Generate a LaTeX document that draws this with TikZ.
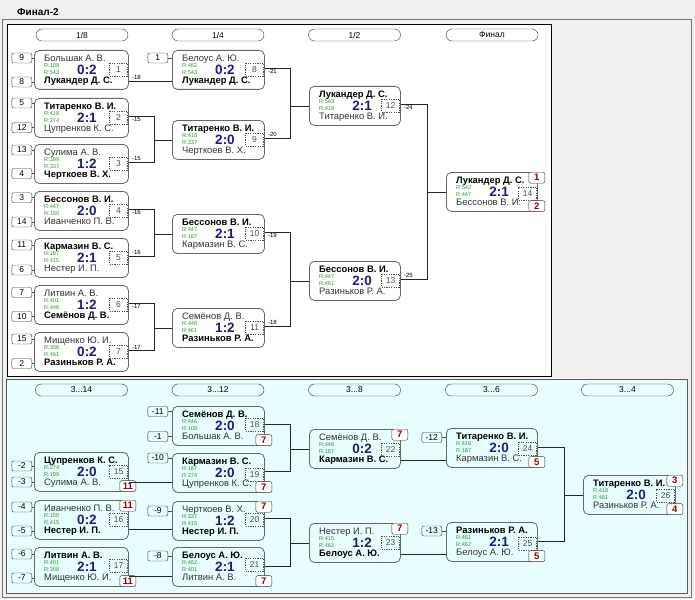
\documentclass[tikz,border=0pt]{standalone}
\usepackage{fontspec}
\setmainfont{Liberation Sans}
\usetikzlibrary{calc}
\definecolor{scnavy}{RGB}{28,28,128}
\definecolor{plred}{RGB}{140,0,0}
\definecolor{rgreen}{RGB}{45,150,45}
\definecolor{panelcyan}{RGB}{232,253,253}
\definecolor{bggray}{RGB}{240,240,240}
\newcommand\win[1]{{\bfseries\color{black}#1}}
\newcommand\mmatch[6]{%
  \node[mbox, minimum width=#4pt, anchor=north west] (#1) at (#2,#3) {};
  \node[nm, anchor=west] (#1a) at ($(#1.north west)+(10,9)$) {#5};
  \node[nm, anchor=west] (#1b) at ($(#1.north west)+(10,31.5)$) {#6};
}
\newcommand\mscore[6]{%
  \node[rt, anchor=west] (#1r) at ($(#1.north west)+(10,15.3)$) {R:#2};
  \node[rt, anchor=west] (#1q) at ($(#1.north west)+(10,23)$) {R:#3};
  \node[sc] (#1s) at ($(#1.north west)+(53,19.5)$) {#4};
  \node[numbox, anchor=north east] (#1n) at ($(#1.north east)+(-1,#6)$) {#5};
}
\newcommand\mseed[5]{%
  \node[seedbox, anchor=east] (#1) at (#3,#4) {#5};
  \draw[sline] (#1.east) -- (#1.east -| #2.west);
}
\newcommand\mplt[2]{\node[plbox, anchor=north] (#1pt) at ($(#1.north east)+(-1,0)$) {#2};}
\newcommand\mplb[2]{\node[plbox, anchor=south] (#1pb) at ($(#1.south east)+(-1,0)$) {#2};}
\newcommand\mpair[6]{%
  \coordinate (#1x) at ($(#1.north east)+(0,#3)$);
  \coordinate (#2x) at ($(#2.north east)+(0,#4)$);
  \coordinate (#5v) at (#6,0);
  \draw[conn] (#1x) -- (#1x -| #5v) -- (#2x -| #5v) -- (#2x);
  \draw[conn] (#5v |- #5.west) -- (#5.west);
}
\newcommand\mstraight[3]{%
  \coordinate (#1x) at ($(#1.north east)+(0,#3)$);
  \draw[conn] (#1x) -- (#1x -| #2.west);
}
\begin{document}
\begin{tikzpicture}[x=1pt,y=-1pt,
  mbox/.style={draw=black!60, rounded corners=5pt, minimum height=39pt, inner sep=0pt, line width=0.8pt},
  nm/.style={font=\fontsize{9.4}{10}\selectfont, inner sep=0pt, text=black!80, text height=6.7pt, text depth=1.9pt},
  rt/.style={font=\fontsize{5.6}{6}\selectfont, inner sep=0pt, text=rgreen},
  sc/.style={font=\fontsize{13.5}{14}\selectfont\bfseries, inner sep=0pt, text=scnavy},
  numbox/.style={draw=black!70, dash pattern=on 1.2pt off 1.2pt, minimum width=18pt, minimum height=13pt, inner sep=0pt, font=\fontsize{8.5}{9}\selectfont, text=black!70},
  seedbox/.style={draw=black!80, rounded corners=2pt, minimum width=20pt, minimum height=10pt, inner sep=0pt, font=\fontsize{8.5}{9}\selectfont},
  plbox/.style={draw=black!80, fill=white, rounded corners=2pt, minimum width=16pt, minimum height=11pt, inner sep=0pt, font=\fontsize{9.5}{10}\selectfont\bfseries, text=plred},
  hdr/.style={draw=black!80, rounded corners=6pt, minimum width=92pt, minimum height=12pt, inner sep=0pt, font=\fontsize{8.5}{9}\selectfont},
  conn/.style={draw=black!85, line width=0.7pt},
  sline/.style={draw=black!70, line width=0.6pt},
  lbl/.style={font=\fontsize{6}{7}\selectfont, inner sep=0pt},
  ttl/.style={font=\fontsize{10}{11}\selectfont\bfseries, inner sep=0pt}
]
\useasboundingbox (0,0) rectangle (695,599);
\fill[bggray] (0,0) rectangle (695,599);
\draw[black!55] (2,19) rectangle (691,597);
\draw[black, fill=white] (7,24) rectangle (551,376);
\draw[black!65, fill=panelcyan] (6,379) rectangle (687,593);
\node[ttl, anchor=west] (title) at (17,12) {Финал-2};

% headers
\node[hdr, fill=white] (h1) at (82,35) {1/8};
\node[hdr, fill=white] (h2) at (218,35) {1/4};
\node[hdr, fill=white] (h3) at (354.5,35) {1/2};
\node[hdr, fill=white] (h4) at (492,35) {Финал};
\node[hdr] (h5) at (81.5,390) {3...14};
\node[hdr] (h6) at (218,390) {3...12};
\node[hdr] (h7) at (354.5,390) {3...8};
\node[hdr] (h8) at (491.5,390) {3...6};
\node[hdr] (h9) at (627.5,390) {3...4};

% ===== top bracket, 1/8 =====
\mmatch{m1}{34}{50}{94}{Большак А. В.}{\win{Лукандер Д. С.}}
\mscore{m1}{108}{543}{0:2}{1}{13}
\mseed{sa9}{m1}{32}{58}{9}
\mseed{sa8}{m1}{32}{82}{8}

\mmatch{m2}{34}{98}{94}{\win{Титаренко В. И.}}{Цупренков К. С.}
\mscore{m2}{418}{274}{2:1}{2}{13}
\mseed{sa5}{m2}{32}{103}{5}
\mseed{sa12}{m2}{32}{127.7}{12}

\mmatch{m3}{34}{144}{94}{Сулима А. В.}{\win{Черткоев В. Х.}}
\mscore{m3}{199}{337}{1:2}{3}{13}
\mseed{sa13}{m3}{32}{150}{13}
\mseed{sa4}{m3}{32}{173.5}{4}

\mmatch{m4}{34}{191}{94}{\win{Бессонов В. И.}}{Иванченко П. В.}
\mscore{m4}{447}{150}{2:0}{4}{13}
\mseed{sa3}{m4}{32}{197.7}{3}
\mseed{sa14}{m4}{32}{222}{14}

\mmatch{m5}{34}{238}{94}{\win{Кармазин В. С.}}{Нестер И. П.}
\mscore{m5}{187}{415}{2:1}{5}{13}
\mseed{sa11}{m5}{32}{245}{11}
\mseed{sa6}{m5}{32}{270}{6}

\mmatch{m6}{34}{285}{94}{Литвин А. В.}{\win{Семёнов Д. В.}}
\mscore{m6}{401}{446}{1:2}{6}{13}
\mseed{sa7}{m6}{32}{292.5}{7}
\mseed{sa10}{m6}{32}{316.5}{10}

\mmatch{m7}{34}{332}{94}{Мищенко Ю. И.}{\win{Разиньков Р. А.}}
\mscore{m7}{308}{461}{0:2}{7}{13}
\mseed{sa15}{m7}{32}{339}{15}
\mseed{sa2}{m7}{32}{363.5}{2}

% ===== 1/4 =====
\mmatch{m8}{172}{50}{92}{Белоус А. Ю.}{\win{Лукандер Д. С.}}
\mscore{m8}{462}{543}{0:2}{8}{13}
\mseed{sa1}{m8}{168}{58}{1}

\mmatch{m9}{172}{120}{92}{\win{Титаренко В. И.}}{Черткоев В. Х.}
\mscore{m9}{418}{337}{2:0}{9}{13}

\mmatch{m10}{172}{214}{92}{\win{Бессонов В. И.}}{Кармазин В. С.}
\mscore{m10}{447}{187}{2:1}{10}{13}

\mmatch{m11}{172}{308}{92}{Семёнов Д. В.}{\win{Разиньков Р. А.}}
\mscore{m11}{446}{461}{1:2}{11}{13}

% ===== 1/2 =====
\mmatch{m12}{309}{86}{91}{\win{Лукандер Д. С.}}{Титаренко В. И.}
\mscore{m12}{543}{418}{2:1}{12}{13}

\mmatch{m13}{309}{261}{91}{\win{Бессонов В. И.}}{Разиньков Р. А.}
\mscore{m13}{447}{461}{2:0}{13}{13}

% ===== final =====
\mmatch{m14}{446}{172}{91}{\win{Лукандер Д. С.}}{Бессонов В. И.}
\mscore{m14}{543}{447}{2:1}{14}{14.5}
\mplt{m14}{1}
\mplb{m14}{2}

% top connectors
\mstraight{m1}{m8}{31}
\node[lbl, anchor=south west] (l1) at ($(m1x)+(3,-0.8)$) {-18};
\mpair{m2}{m3}{18}{18}{m9}{154}
\node[lbl, anchor=north west] (l2) at ($(m2x)+(3,0.8)$) {-15};
\node[lbl, anchor=south west] (l3) at ($(m3x)+(3,-0.8)$) {-15};
\mpair{m4}{m5}{18}{18}{m10}{154}
\node[lbl, anchor=north west] (l4) at ($(m4x)+(3,0.8)$) {-16};
\node[lbl, anchor=south west] (l5) at ($(m5x)+(3,-0.8)$) {-16};
\mpair{m6}{m7}{18}{18}{m11}{154}
\node[lbl, anchor=north west] (l6) at ($(m6x)+(3,0.8)$) {-17};
\node[lbl, anchor=south west] (l7) at ($(m7x)+(3,-0.8)$) {-17};
\mpair{m8}{m9}{18}{18}{m12}{290}
\node[lbl, anchor=north west] (l8) at ($(m8x)+(3,0.8)$) {-21};
\node[lbl, anchor=south west] (l9) at ($(m9x)+(3,-0.8)$) {-20};
\mpair{m10}{m11}{18}{18}{m13}{290}
\node[lbl, anchor=north west] (l10) at ($(m10x)+(3,0.8)$) {-19};
\node[lbl, anchor=south west] (l11) at ($(m11x)+(3,-0.8)$) {-18};
\mpair{m12}{m13}{18}{18}{m14}{427}
\node[lbl, anchor=north west] (l12) at ($(m12x)+(3,0.8)$) {-24};
\node[lbl, anchor=south west] (l13) at ($(m13x)+(3,-0.8)$) {-25};

% ===== bottom bracket 3...14 =====
\mmatch{m15}{34}{452}{94}{\win{Цупренков К. С.}}{Сулима А. В.}
\mscore{m15}{274}{199}{2:0}{15}{12.5}
\mseed{sb2}{m15}{32}{466}{-2}
\mseed{sb3}{m15}{32}{482}{-3}
\mplb{m15}{11}

\mmatch{m16}{34}{500}{94}{Иванченко П. В.}{\win{Нестер И. П.}}
\mscore{m16}{150}{415}{0:2}{16}{13}
\mseed{sb4}{m16}{32}{507}{-4}
\mseed{sb5}{m16}{32}{531}{-5}
\mplt{m16}{11}

\mmatch{m17}{34}{547}{94}{\win{Литвин А. В.}}{Мищенко Ю. И.}
\mscore{m17}{401}{308}{2:1}{17}{12}
\mseed{sb6}{m17}{32}{554}{-6}
\mseed{sb7}{m17}{32}{578}{-7}
\mplb{m17}{11}

% 3...12
\mmatch{m18}{172}{406}{92}{\win{Семёнов Д. В.}}{Большак А. В.}
\mscore{m18}{446}{108}{2:0}{18}{12}
\mseed{sb11}{m18}{168}{411.5}{-11}
\mseed{sb1}{m18}{168}{436.5}{-1}
\mplb{m18}{7}

\mmatch{m19}{172}{453}{92}{\win{Кармазин В. С.}}{Цупренков К. С.}
\mscore{m19}{187}{274}{2:0}{19}{15}
\mseed{sb10}{m19}{168}{458}{-10}
\mplb{m19}{7}

\mmatch{m20}{172}{501}{92}{Черткоев В. Х.}{\win{Нестер И. П.}}
\mscore{m20}{337}{415}{1:2}{20}{12}
\mseed{sb9}{m20}{168}{511}{-9}
\mplt{m20}{7}

\mmatch{m21}{172}{547}{92}{\win{Белоус А. Ю.}}{Литвин А. В.}
\mscore{m21}{462}{401}{2:1}{21}{11}
\mseed{sb8}{m21}{168}{556}{-8}
\mplb{m21}{7}

% 3...8
\mmatch{m22}{309}{429}{91}{Семёнов Д. В.}{\win{Кармазин В. С.}}
\mscore{m22}{446}{187}{0:2}{22}{14}
\mplt{m22}{7}

\mmatch{m23}{309}{523}{91}{Нестер И. П.}{\win{Белоус А. Ю.}}
\mscore{m23}{415}{462}{1:2}{23}{13}
\mplt{m23}{7}

% 3...6
\mmatch{m24}{446}{428}{91}{\win{Титаренко В. И.}}{Кармазин В. С.}
\mscore{m24}{418}{187}{2:0}{24}{14}
\mseed{sb12}{m24}{442}{437.5}{-12}
\mplb{m24}{5}

\mmatch{m25}{446}{522}{91}{\win{Разиньков Р. А.}}{Белоус А. Ю.}
\mscore{m25}{461}{462}{2:1}{25}{15}
\mseed{sb13}{m25}{442}{531}{-13}
\mplb{m25}{5}

% 3...4
\mmatch{m26}{583}{475}{92}{\win{Титаренко В. И.}}{Разиньков Р. А.}
\mscore{m26}{418}{461}{2:0}{26}{13.5}
\mplt{m26}{3}
\mplb{m26}{4}

% bottom connectors
\mstraight{m15}{m19}{30.5}
\mstraight{m16}{m20}{29.5}
\mstraight{m17}{m21}{29}
\mpair{m18}{m19}{18.5}{18.5}{m22}{290}
\mpair{m20}{m21}{17.5}{19}{m23}{290}
\mstraight{m22}{m24}{31}
\mstraight{m23}{m25}{31}
\mpair{m24}{m25}{19.5}{19.5}{m26}{564}
\end{tikzpicture}
\end{document}
